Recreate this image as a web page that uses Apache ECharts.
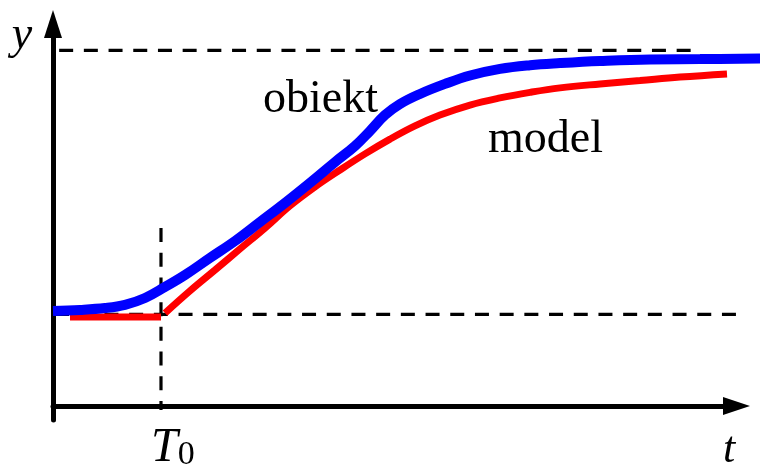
<!DOCTYPE html>
<html>
<head>
<meta charset="utf-8">
<script src="https://cdn.jsdelivr.net/npm/echarts@6/dist/echarts.min.js"></script>
<style>
  html, body { margin: 0; padding: 0; background: #fff; }
  #chart { width: 760px; height: 476px; }
</style>
</head>
<body>
<div id="chart"></div>
<script>
// Step response of the plant ("obiekt") and of its dead-time model ("model")
const objectT = [0, 3.95, 7.61, 10.53, 13.46, 16.39, 19.31, 22.97, 26.63, 30.29, 33.94, 37.60, 41.26, 44.18, 46.38, 48.57, 50.77, 53.69, 57.35, 61.01, 65.40, 69.79, 74.18, 80.03, 87.35, 94.66, 103.44];
const objectY = [0.013, 0.017, 0.024, 0.036, 0.062, 0.104, 0.149, 0.214, 0.278, 0.350, 0.422, 0.498, 0.577, 0.638, 0.695, 0.755, 0.797, 0.835, 0.873, 0.905, 0.930, 0.944, 0.952, 0.960, 0.966, 0.967, 0.969];

// model: flat until the dead time T0, then the first-order rise
const modelT = [2.49, 15.80, 15.90, 16.39, 20.04, 23.70, 27.36, 31.02, 34.67, 38.33, 41.99, 45.65, 49.31, 52.96, 56.62, 61.01, 65.40, 69.79, 74.18, 80.03, 85.88, 91.73, 98.61];
const modelY = [-0.010, -0.010, '-', 0.005, 0.089, 0.168, 0.248, 0.327, 0.411, 0.483, 0.547, 0.608, 0.664, 0.714, 0.755, 0.793, 0.820, 0.841, 0.858, 0.873, 0.886, 0.899, 0.911];

// reference levels and the dead time
const levelStart = 0;
const levelEnd = 1;
const deadTime = 15.8;

// extents of the dashed guides
const upperGuideT = [0.9, 93.3];
const lowerGuideT = [0.3, 100.5];
const deadTimeGuideY = [0.327, -0.362];

const labelObject = 'obiekt';
const labelModel = 'model';
const labelY = 'y';
const labelT = 't';

const zip = (xs, ys) => xs.map((x, i) => [x, ys[i]]);

// frame geometry: the arrowed axes stop short of the right edge,
// while the curves run on to the edge of the canvas
const W = 760;
const frame = { left: 53, right: 23.5, top: 24, bottom: 56 };
const tMax = 100;
const tMaxWide = tMax * (W - frame.left) / (W - frame.left - frame.right);
const yMin = -0.4;
const yMax = 1.1;

const hiddenAxis = {
  show: false,
  axisLine: { show: false },
  axisTick: { show: false },
  axisLabel: { show: false },
  splitLine: { show: false }
};

const dashed = {
  type: 'line',
  symbol: 'none',
  silent: true,
  xAxisIndex: 1,
  yAxisIndex: 1,
  lineStyle: { color: '#000', width: 3.2, type: [14, 10.7] }
};

const chart = echarts.init(document.getElementById('chart'), null, { renderer: 'canvas' });

chart.setOption({
  animation: false,
  backgroundColor: '#fff',
  grid: [
    Object.assign({ containLabel: false }, frame),
    { left: frame.left, right: 0, top: frame.top, bottom: frame.bottom, containLabel: false }
  ],
  xAxis: [
    {
      gridIndex: 0,
      type: 'value',
      min: 0,
      max: tMax,
      offset: -14,
      axisLine: {
        show: true,
        onZero: false,
        symbol: ['none', 'triangle'],
        symbolSize: [18, 27],
        lineStyle: { color: '#000', width: 5 }
      },
      axisTick: { show: false },
      axisLabel: { show: false },
      splitLine: { show: false }
    },
    Object.assign({ gridIndex: 1, type: 'value', min: 0, max: tMaxWide }, hiddenAxis)
  ],
  yAxis: [
    {
      gridIndex: 0,
      type: 'value',
      min: yMin,
      max: yMax,
      axisLine: {
        show: true,
        onZero: false,
        symbol: ['none', 'triangle'],
        symbolSize: [18, 28],
        lineStyle: { color: '#000', width: 5 }
      },
      axisTick: { show: false },
      axisLabel: { show: false },
      splitLine: { show: false }
    },
    Object.assign({ gridIndex: 1, type: 'value', min: yMin, max: yMax }, hiddenAxis)
  ],
  series: [
    Object.assign({}, dashed, { data: upperGuideT.map(t => [t, levelEnd]) }),
    Object.assign({}, dashed, { data: lowerGuideT.map(t => [t, levelStart]) }),
    Object.assign({}, dashed, { data: deadTimeGuideY.map(v => [deadTime, v]) }),
    {
      name: labelModel,
      type: 'line',
      xAxisIndex: 1,
      yAxisIndex: 1,
      symbol: 'none',
      smooth: 0.4,
      connectNulls: false,
      data: zip(modelT, modelY),
      lineStyle: { color: '#ff0000', width: 7, cap: 'butt' }
    },
    {
      name: labelObject,
      type: 'line',
      xAxisIndex: 1,
      yAxisIndex: 1,
      symbol: 'none',
      smooth: 0.4,
      data: zip(objectT, objectY),
      lineStyle: { color: '#0000ff', width: 10, cap: 'butt' }
    }
  ],
  graphic: [
    {
      type: 'text', x: 263, y: 100,
      style: { text: labelObject, font: '46px "Liberation Serif"', fill: '#000', align: 'left', verticalAlign: 'middle' }
    },
    {
      type: 'text', x: 488, y: 140,
      style: { text: labelModel, font: '46px "Liberation Serif"', fill: '#000', align: 'left', verticalAlign: 'middle' }
    },
    {
      type: 'text', x: 22, y: 36,
      style: { text: labelY, font: 'italic 46px "Liberation Serif"', fill: '#000', align: 'center', verticalAlign: 'middle' }
    },
    {
      type: 'text', x: 729, y: 450,
      style: { text: labelT, font: 'italic 44px "Liberation Serif"', fill: '#000', align: 'center', verticalAlign: 'middle' }
    },
    {
      type: 'text', x: 151, y: 472,
      style: {
        text: '{a|T}{b|0}',
        align: 'left',
        verticalAlign: 'bottom',
        fill: '#000',
        rich: {
          a: { font: 'italic 48px "Liberation Serif"', lineHeight: 44, verticalAlign: 'bottom' },
          b: { font: '34px "Liberation Serif"', lineHeight: 34, verticalAlign: 'bottom' }
        }
      }
    }
  ]
});
</script>
</body>
</html>
